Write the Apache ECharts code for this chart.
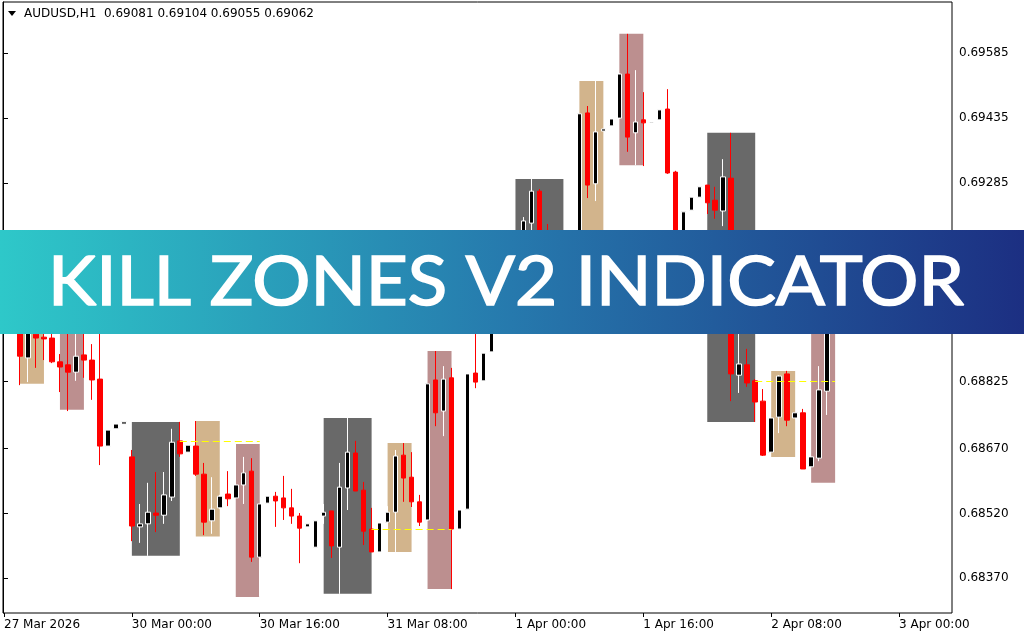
<!DOCTYPE html>
<html><head><meta charset="utf-8">
<script src="https://cdn.jsdelivr.net/npm/echarts@6/dist/echarts.min.js"></script>
<style>html,body{margin:0;padding:0;background:#fff}#c{width:1024px;height:640px}</style>
</head><body><div id="c"></div>
<script>
// ---- data (one entry per hourly bar) ----
const opens = [0.69014,0.69002,0.68972,0.68880,0.68935,0.68928,0.68926,0.68871,0.68864,0.68847,
0.68887,0.68875,0.68831,0.68676,0.68716,0.68727,0.68651,0.68489,0.68496,0.68521,
0.68516,0.68558,0.68688,0.68662,0.68676,0.68611,0.68503,0.68533,0.68565,0.68556,
0.68586,0.68618,0.68419,0.68544,0.68560,0.68556,0.68533,0.68514,0.68489,0.68442,
0.68514,0.68526,0.68442,0.68579,0.68660,0.68574,0.68484,0.68431,0.68500,0.68523,
0.68655,0.68604,0.68547,0.68505,0.68829,0.68757,0.68834,0.68484,0.68530,0.68845,
0.68827,0.68894,0.69014,0.69079,0.69060,0.69118,0.69192,0.69266,0.69130,0.69095,
0.69134,0.69118,0.69102,0.69447,0.69283,0.69405,0.69417,0.69435,0.69537,0.69401,
0.69431,0.69424,0.69431,0.69456,0.69310,0.69141,0.69222,0.69252,0.69280,0.69245,
0.69220,0.69296,0.68840,0.68864,0.68827,0.68780,0.68662,0.68743,0.68843,0.68741,
0.68753,0.68628,0.68648,0.68803,0.69081];
const highs = [0.69037,0.69019,0.68986,0.68977,0.68954,0.68945,0.68940,0.68889,0.68956,0.68945,
0.68945,0.68912,0.68938,0.68713,0.68727,0.68732,0.68667,0.68542,0.68591,0.68616,
0.68616,0.68716,0.68732,0.68678,0.68734,0.68637,0.68604,0.68563,0.68618,0.68681,
0.68651,0.68648,0.68542,0.68560,0.68570,0.68607,0.68577,0.68521,0.68496,0.68503,
0.68542,0.68526,0.68637,0.68741,0.68688,0.68593,0.68533,0.68498,0.68537,0.68667,
0.68683,0.68662,0.68563,0.68820,0.68896,0.68861,0.68857,0.68528,0.68843,0.68945,
0.68891,0.69014,0.69088,0.69102,0.69130,0.69206,0.69294,0.69271,0.69190,0.69153,
0.69158,0.69141,0.69445,0.69463,0.69521,0.69410,0.69433,0.69539,0.69630,0.69546,
0.69495,0.69428,0.69454,0.69502,0.69313,0.69218,0.69252,0.69276,0.69280,0.69276,
0.69340,0.69401,0.68945,0.68901,0.68831,0.68808,0.68743,0.68840,0.68850,0.68753,
0.68762,0.68651,0.68861,0.69095,0.69104];
const lows = [0.68991,0.68963,0.68817,0.68824,0.68857,0.68875,0.68868,0.68801,0.68757,0.68827,
0.68834,0.68783,0.68632,0.68676,0.68716,0.68727,0.68456,0.68452,0.68422,0.68477,
0.68496,0.68549,0.68651,0.68662,0.68607,0.68470,0.68473,0.68530,0.68537,0.68556,
0.68542,0.68408,0.68327,0.68544,0.68489,0.68505,0.68496,0.68405,0.68489,0.68442,
0.68496,0.68417,0.68334,0.68528,0.68572,0.68447,0.68431,0.68431,0.68431,0.68431,
0.68547,0.68535,0.68491,0.68503,0.68722,0.68699,0.68345,0.68484,0.68530,0.68810,
0.68827,0.68894,0.69002,0.69037,0.69037,0.69102,0.69164,0.69102,0.69072,0.69083,
0.69102,0.69088,0.69095,0.69250,0.69243,0.69405,0.69417,0.69433,0.69357,0.69326,
0.69324,0.69421,0.69431,0.69306,0.69125,0.69130,0.69222,0.69252,0.69213,0.69202,
0.69185,0.68780,0.68799,0.68813,0.68732,0.68653,0.68651,0.68706,0.68722,0.68741,
0.68623,0.68591,0.68641,0.68748,0.69055];
const closes = [0.69002,0.68972,0.68884,0.68963,0.68926,0.68924,0.68871,0.68859,0.68847,0.68884,
0.68875,0.68829,0.68676,0.68713,0.68727,0.68732,0.68491,0.68496,0.68523,0.68516,
0.68563,0.68685,0.68658,0.68678,0.68611,0.68500,0.68530,0.68560,0.68554,0.68586,
0.68614,0.68419,0.68542,0.68560,0.68549,0.68533,0.68514,0.68486,0.68496,0.68503,
0.68523,0.68445,0.68581,0.68662,0.68572,0.68479,0.68431,0.68498,0.68523,0.68653,
0.68602,0.68547,0.68500,0.68820,0.68753,0.68831,0.68484,0.68528,0.68843,0.68824,
0.68891,0.69014,0.69079,0.69060,0.69118,0.69197,0.69266,0.69130,0.69095,0.69134,
0.69118,0.69102,0.69445,0.69280,0.69403,0.69410,0.69433,0.69537,0.69391,0.69426,
0.69424,0.69426,0.69454,0.69308,0.69141,0.69218,0.69252,0.69276,0.69239,0.69222,
0.69299,0.68843,0.68866,0.68822,0.68778,0.68655,0.68741,0.68838,0.68736,0.68753,
0.68623,0.68651,0.68806,0.69081,0.69062];

// session boxes (bar index range and price range)
const zoneStart  = [2, 7, 16, 24, 29, 40, 48, 53, 64, 72, 77, 88, 96, 101];
const zoneEnd    = [5, 10, 22, 27, 32, 46, 51, 56, 70, 75, 80, 94, 99, 104];
const zoneTop    = [0.68986,0.68956,0.68732,0.68734,0.68681,0.68741,0.68683,0.68896,0.69294,0.69521,0.69630,0.69401,0.68850,0.69104];
const zoneBottom = [0.68820,0.68760,0.68422,0.68467,0.68327,0.68334,0.68431,0.68345,0.69037,0.69095,0.69326,0.68732,0.68651,0.68591];
const zoneKind   = ['london','ny','asia','london','ny','asia','london','ny','asia','london','ny','asia','london','ny'];

// dashed levels
const levelStart = [22, 46, 94];
const levelEnd   = [32, 56, 104];
const levelValue = [0.68687, 0.68483, 0.68827];

// axis labels
const tickLabels = ['27 Mar 2026','30 Mar 00:00','30 Mar 16:00','31 Mar 08:00','1 Apr 00:00','1 Apr 16:00','2 Apr 08:00','3 Apr 00:00'];
const tickStep = 16;
const priceTicks = [0.69585,0.69435,0.69285,0.69135,0.68980,0.68825,0.68670,0.68520,0.68370];
const yMin = 0.682897, yMax = 0.697037;
const slotCount = 119;
const symbolName = 'AUDUSD', timeframe = 'H1';
const bannerText = 'KILL ZONES V2 INDICATOR';

// ---- build ----
const zoneColors = { asia: '#696969', london: '#d2b48c', ny: '#bc8f8f' };
const categories = Array.from({ length: slotCount }, (_, i) => String(i));
const candles = opens.map((o, i) => [o, closes[i], lows[i], highs[i]]);
const areas = zoneStart.map((s, i) => [
  { coord: [s, zoneTop[i]], itemStyle: { color: zoneColors[zoneKind[i]], opacity: 1 } },
  { coord: [zoneEnd[i], zoneBottom[i]] }
]);
const levels = levelStart.map((s, i) => [
  { coord: [s, levelValue[i]] }, { coord: [levelEnd[i], levelValue[i]] }
]);
const last = opens.length - 1;
const titleText = symbolName + ',' + timeframe + '  ' +
  [opens[last], highs[last], lows[last], closes[last]].map(v => v.toFixed(5)).join(' ');

const FONT = '"DejaVu Sans", Verdana, sans-serif';
const bannerFont = 'normal 67px Lato, "Open Sans", sans-serif';
const mc = document.createElement('canvas').getContext('2d');
mc.font = bannerFont;
const bannerScale = 916 / mc.measureText(bannerText).width;

const chart = echarts.init(document.getElementById('c'), null, { renderer: 'canvas' });
chart.setOption({
  animation: false,
  backgroundColor: '#ffffff',
  grid: [
    { left: -1, right: 73, top: 2, bottom: 27, show: false },
    { left: 3, right: 72, top: 2, bottom: 27, show: true, borderColor: '#000', borderWidth: 1, backgroundColor: 'transparent' }
  ],
  xAxis: [
    {
      type: 'category', gridIndex: 0, data: categories, boundaryGap: true,
      axisLine: { show: false },
      axisTick: { show: true, alignWithLabel: true, length: 4, lineStyle: { color: '#000' },
        interval: (idx) => idx % tickStep === 0 && idx / tickStep < tickLabels.length },
      axisLabel: {
        show: true, align: 'left', margin: 6, color: '#000', fontFamily: FONT, fontSize: 12,
        interval: (idx) => idx % tickStep === 0 && idx / tickStep < tickLabels.length,
        formatter: (v, idx) => tickLabels[Math.round(idx / tickStep)] || ''
      },
      splitLine: { show: false }
    },
    { type: 'value', gridIndex: 1, min: 0, max: 1, show: false }
  ],
  yAxis: [
    { type: 'value', gridIndex: 0, min: yMin, max: yMax, show: false, scale: true },
    {
      type: 'value', gridIndex: 1, min: yMin, max: yMax, position: 'right', scale: true,
      axisLine: { show: true, lineStyle: { color: '#000' } },
      axisTick: { show: true, length: 5, customValues: priceTicks, lineStyle: { color: '#000' } },
      axisLabel: { show: true, customValues: priceTicks, margin: 7, color: '#000', fontFamily: FONT, fontSize: 12,
        formatter: (v) => v.toFixed(5) },
      splitLine: { show: false }
    }
  ],
  series: [{
    type: 'candlestick', xAxisIndex: 0, yAxisIndex: 0,
    data: candles, barWidth: 5,
    itemStyle: {
      color: '#000000', borderColor: '#ffffff',
      color0: '#ff0000', borderColor0: '#ff0000',
      borderColorDoji: '#ffffff', borderWidth: 1
    },
    markArea: { silent: true, label: { show: false }, data: areas },
    markLine: {
      silent: true, symbol: ['none', 'none'], label: { show: false },
      lineStyle: { color: '#ffff00', type: [7, 4], width: 1 },
      data: levels
    }
  }],
  graphic: [
    { type: 'polygon', shape: { points: [[8, 11], [16, 11], [12, 16]] }, style: { fill: '#000' }, z: 50 },
    { type: 'text', x: 24, y: 14, style: { text: titleText, font: '12px ' + FONT, fill: '#000', verticalAlign: 'middle' }, z: 50 },
    { type: 'rect', shape: { x: 0, y: 230, width: 1024, height: 104 },
      style: { fill: new echarts.graphic.LinearGradient(0, 0, 1, 0, [
        { offset: 0, color: '#2ec8c9' }, { offset: 0.5, color: '#2679ad' }, { offset: 1, color: '#1c2f82' }]) }, z: 100 },
    { type: 'text', x: 506, y: 283, scaleX: bannerScale,
      style: { text: bannerText, font: bannerFont, fill: '#ffffff', stroke: '#ffffff', lineWidth: 1.6,
        align: 'center', verticalAlign: 'middle' }, z: 101 }
  ]
});
</script></body></html>
